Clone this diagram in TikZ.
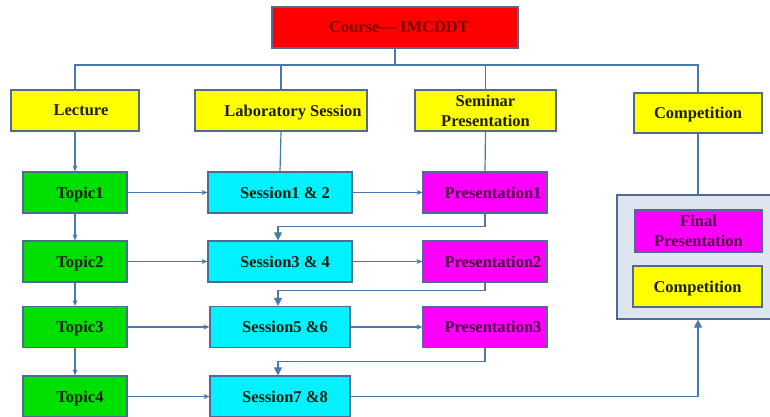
\documentclass[tikz,border=0pt]{standalone}
\usepackage{fontspec}
\setmainfont{Liberation Serif}
\usetikzlibrary{arrows.meta,calc}
\definecolor{lnc}{HTML}{4A78AC}
\definecolor{bdc}{HTML}{4F6A94}
\definecolor{ylw}{HTML}{FFFF00}
\definecolor{grn}{HTML}{00E000}
\definecolor{cyn}{HTML}{00F2FF}
\definecolor{mgt}{HTML}{FF00FF}
\definecolor{rd}{HTML}{FF0000}
\definecolor{contf}{HTML}{DDE6F0}
\definecolor{txtd}{HTML}{1E1E10}
\definecolor{txtp}{HTML}{4A0040}
\definecolor{txtr}{HTML}{800000}
\tikzset{
  box/.style={draw=bdc, line width=1.2pt, inner sep=0pt, align=center,
    font=\fontsize{16.5}{20}\selectfont\bfseries, text=txtd},
  one/.style={text depth=0pt},
  ybox/.style={box, fill=ylw},
  gbox/.style={box, one, fill=grn, minimum width=104pt, minimum height=41pt},
  cbox/.style={box, one, fill=cyn, minimum width=144pt, minimum height=41pt},
  mbox/.style={box, one, fill=mgt, text=txtp, minimum width=124pt, minimum height=41pt},
  ln/.style={draw=lnc, line width=1.2pt},
  arr/.style={ln, -{Stealth[length=6pt,width=5pt]}},
  fbarr/.style={ln, -{Triangle[length=8pt,width=8pt]}},
}
\begin{document}
\begin{tikzpicture}[x=1pt,y=-1pt]
\useasboundingbox (0,0) rectangle (770,416);
\clip (0,0) rectangle (770,416);
% container
\node[draw=bdc, line width=1.2pt, fill=contf, minimum width=160pt, minimum height=124pt, inner sep=0pt] (cont) at (697,257) {};
% top
\node[box, one, fill=rd, text=txtr, minimum width=246pt, minimum height=41pt] (course) at (395,27.5) {\hspace*{8pt}Course— IMCDDT};
\node[ybox, one, minimum width=128pt, minimum height=41pt] (lect) at (75,110.5) {\hspace*{12pt}Lecture};
\node[ybox, one, minimum width=172pt, minimum height=41pt] (lab) at (281,110.5) {\hspace*{24pt}Laboratory Session};
\node[ybox, minimum width=141pt, minimum height=41pt] (sem) at (485.5,110.5) {Seminar\\Presentation};
\node[ybox, one, minimum width=128pt, minimum height=40pt] (comp) at (698,113) {Competition};
% rows
\node[gbox] (t1) at (75,192.5) {\hspace*{10pt}Topic1};
\node[gbox] (t2) at (75,261.5) {\hspace*{10pt}Topic2};
\node[gbox] (t3) at (75,327) {\hspace*{10pt}Topic3};
\node[gbox] (t4) at (75,396.5) {\hspace*{10pt}Topic4};
\node[cbox] (s1) at (280,192.5) {\hspace*{10pt}Session1 \& 2};
\node[cbox] (s2) at (280,261.5) {\hspace*{10pt}Session3 \& 4};
\node[cbox, minimum width=140pt] (s3) at (280,327) {\hspace*{10pt}Session5 \&6};
\node[cbox, minimum width=140pt] (s4) at (280,396.5) {\hspace*{10pt}Session7 \&8};
\node[mbox] (p1) at (485,192.5) {\hspace*{16pt}Presentation1};
\node[mbox] (p2) at (485,261.5) {\hspace*{16pt}Presentation2};
\node[mbox] (p3) at (485,327) {\hspace*{16pt}Presentation3};
\node[box, fill=mgt, text=txtp, minimum width=127pt, minimum height=42pt] (fp) at (698.5,231) {Final\\Presentation};
\node[ybox, one, minimum width=129pt, minimum height=41pt] (ci) at (697.5,286.5) {Competition};
% tree connectors
\coordinate (bar) at (395,65);
\draw[ln] (course.south) -- (course.south |- bar);
\draw[ln] (lect.north) |- (bar) -| (comp.north);
\draw[ln] (lab.north) -- (lab.north |- bar);
\draw[ln] (sem.north) -- (sem.north |- bar);
\draw[arr] (lect.south) -- (t1.north);
\draw[ln] (lab.south) -- (s1.north);
\draw[ln] (sem.south) -- (p1.north);
\draw[ln] (comp.south) -- (comp.south |- cont.north);
% topic chain
\draw[arr] (t1.south) -- (t2.north);
\draw[arr] (t2.south) -- (t3.north);
\draw[arr] (t3.south) -- (t4.north);
% rows
\foreach \a/\b in {t1/s1,t2/s2,t3/s3,t4/s4} \draw[arr] (\a.east) -- (\b.west);
\foreach \a/\b in {s1/p1,s2/p2,s3/p3} \draw[arr] (\a.east) -- (\b.west);
% feedback
\draw[fbarr] (p1.south) -- ++(0,13) -| ([xshift=-2pt]s2.north);
\draw[fbarr] (p2.south) -- ++(0,8) -| ([xshift=-2pt]s3.north);
\draw[fbarr] (p3.south) -- ++(0,13) -| ([xshift=-2pt]s4.north);
\draw[fbarr] (s4.east) -| (comp.south |- cont.south);
\end{tikzpicture}
\end{document}
